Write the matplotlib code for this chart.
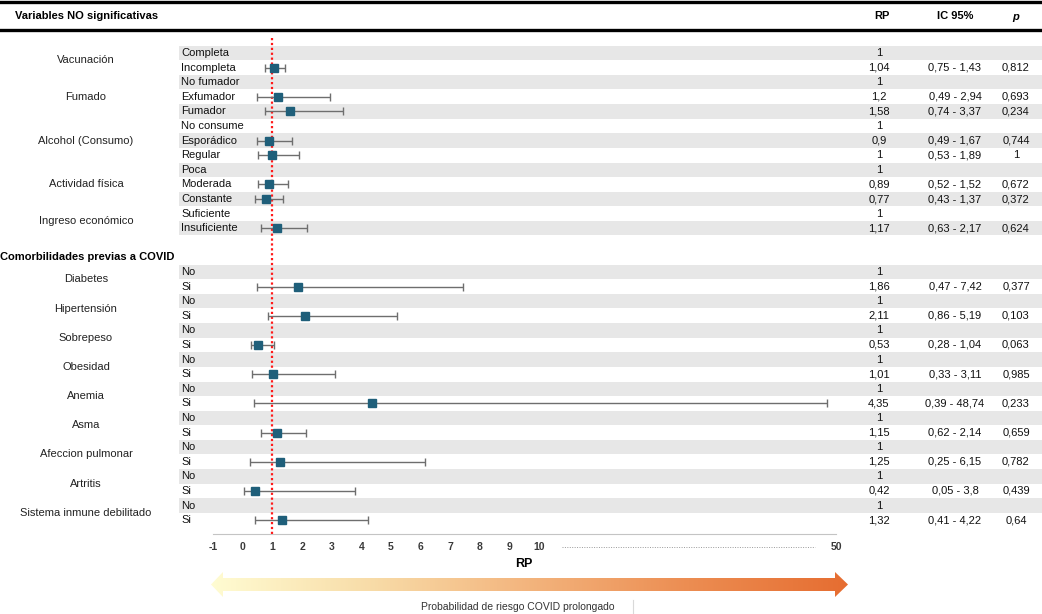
import numpy as np
import matplotlib
matplotlib.use('Agg')
import matplotlib.pyplot as plt
from matplotlib.patches import Polygon
from matplotlib.colors import LinearSegmentedColormap

plt.rcParams['font.family'] = ['Liberation Sans', 'DejaVu Sans']

# --- data -------------------------------------------------------------
sec1_groups = ['Vacunación', 'Fumado', 'Alcohol (Consumo)', 'Actividad física', 'Ingreso económico']
sec1_levels = [['Completa', 'Incompleta'],
               ['No fumador', 'Exfumador', 'Fumador'],
               ['No consume', 'Esporádico', 'Regular'],
               ['Poca', 'Moderada', 'Constante'],
               ['Suficiente', 'Insuficiente']]
nan = np.nan
sec1_rp = [1, 1.04, 1, 1.2, 1.58, 1, 0.9, 1, 1, 0.89, 0.77, 1, 1.17]
sec1_lo = [nan, 0.75, nan, 0.49, 0.74, nan, 0.49, 0.53, nan, 0.52, 0.43, nan, 0.63]
sec1_hi = [nan, 1.43, nan, 2.94, 3.37, nan, 1.67, 1.89, nan, 1.52, 1.37, nan, 2.17]
sec1_p = [nan, 0.812, nan, 0.693, 0.234, nan, 0.744, 1, nan, 0.672, 0.372, nan, 0.624]

com_groups = ['Diabetes', 'Hipertensión', 'Sobrepeso', 'Obesidad', 'Anemia', 'Asma',
              'Afeccion pulmonar', 'Artritis', 'Sistema inmune debilitado']
com_levels = ['No', 'Si']
com_rp = [1.86, 2.11, 0.53, 1.01, 4.35, 1.15, 1.25, 0.42, 1.32]
com_lo = [0.47, 0.86, 0.28, 0.33, 0.39, 0.62, 0.25, 0.05, 0.41]
com_hi = [7.42, 5.19, 1.04, 3.11, 48.74, 2.14, 6.15, 3.8, 4.22]
com_p = [0.377, 0.103, 0.063, 0.985, 0.233, 0.659, 0.782, 0.439, 0.64]

x_ticks = [-1, 0, 1, 2, 3, 4, 5, 6, 7, 8, 9, 10, 50]

# --- build rows -------------------------------------------------------
labels, rows, rp, lo, hi, pv = [], [], [], [], [], []
shade = []
group_pos = []
r = 0
k = 0
for g, lv in zip(sec1_groups, sec1_levels):
    start = r
    for name in lv:
        labels.append(name); rows.append(r)
        rp.append(sec1_rp[k]); lo.append(sec1_lo[k]); hi.append(sec1_hi[k]); pv.append(sec1_p[k])
        if k % 2 == 0:
            shade.append(r)
        r += 1; k += 1
    group_pos.append((g, (start + r - 1) / 2))
header2_row = r + 1
r = header2_row + 1
for i, g in enumerate(com_groups):
    start = r
    labels.append(com_levels[0]); rows.append(r)
    rp.append(1); lo.append(nan); hi.append(nan); pv.append(nan)
    shade.append(r)
    r += 1
    labels.append(com_levels[1]); rows.append(r)
    rp.append(com_rp[i]); lo.append(com_lo[i]); hi.append(com_hi[i]); pv.append(com_p[i])
    r += 1
    group_pos.append((g, (start + r - 1) / 2))

rows = np.array(rows, float)
rp = np.array(rp, float)
lo = np.array(lo, float)
hi = np.array(hi, float)


def fmt(v):
    return f'{v:g}'.replace('.', ',')


# pixel layout helpers
W, H = 1042, 614
ROW0, STEP = 53, 14.6


def row_of(py):
    return (py - ROW0) / STEP


fig = plt.figure(figsize=(W / 100, H / 100), dpi=100)

# background axes: x in pixels, y in rows
bg = fig.add_axes([0, 0, 1, 1])
bg.axis('off')

# shaded bands
bg.barh(shade, W - 179, left=179, height=0.98, color='#e7e7e7', zorder=0)

bg.axhline(row_of(1.5), color='black', lw=2.4)
bg.axhline(row_of(30), color='black', lw=2.4)

txt = '#111111'
bg.text(15, row_of(16), 'Variables NO significativas', fontsize=8, fontweight='bold', va='center')
bg.text(882, row_of(16), 'RP', fontsize=8, fontweight='bold', va='center', ha='center')
bg.text(955, row_of(16), 'IC 95%', fontsize=8, fontweight='bold', va='center', ha='center')
bg.text(1016, row_of(17), 'p', fontsize=8, fontweight='bold', fontstyle='italic', va='center', ha='center')
bg.text(0, header2_row, 'Comorbilidades previas a COVID', fontsize=8, fontweight='bold', va='center')

for g, y in group_pos:
    bg.text(86, y, g, fontsize=8, ha='center', va='center', color='#222222')

for i, name in enumerate(labels):
    y = rows[i]
    bg.text(181, y, name, fontsize=8, va='center', color=txt)
    bg.text(879, y, fmt(rp[i]), fontsize=8, va='center', ha='center', color=txt)
    if not np.isnan(lo[i]):
        bg.text(955, y, f'{fmt(lo[i])} - {fmt(hi[i])}', fontsize=8, va='center', ha='center', color=txt)
        bg.text(1016, y, fmt(pv[i]), fontsize=8, va='center', ha='center', color=txt)

# gradient arrow
pts = [(211, 584.5), (223, 572), (223, 578), (835, 578), (835, 572), (848, 584.5),
       (835, 597), (835, 591), (223, 591), (223, 597)]
poly = Polygon([(px, row_of(py)) for px, py in pts], closed=True,
               facecolor='none', edgecolor='none', transform=bg.transData)
bg.add_patch(poly)
cmap = LinearSegmentedColormap.from_list('risk', ['#fffcd2', '#f8dca8', '#f3b47d', '#ec8d52', '#e66d31'])
grad = np.linspace(0, 1, 512).reshape(1, -1)
im = bg.imshow(grad, cmap=cmap, aspect='auto', zorder=1,
               extent=[211, 848, row_of(597), row_of(572)])
im.set_clip_path(poly)

bg.text(518, row_of(607.5), 'Probabilidad de riesgo COVID prolongado', fontsize=7.5,
        ha='center', va='center', color='#333333')
bg.plot([633, 633], [row_of(600), row_of(614)], color='#d9d9d9', lw=0.8)
bg.text(524, row_of(564), 'RP', fontsize=9, fontweight='bold', ha='center', va='center')

bg.set_xlim(0, W)
bg.set_ylim(row_of(H), row_of(0))

# forest axes
ax = fig.add_axes([213 / W, (H - 534) / H, 623 / W, (534 - 38) / H])
ax.patch.set_alpha(0)


def fwd(x):
    x = np.asarray(x, float)
    return np.where(x <= 10, x, 10 + (x - 10) * 0.25)


def inv(t):
    t = np.asarray(t, float)
    return np.where(t <= 10, t, 10 + (t - 10) * 4)


ax.set_xscale('function', functions=(fwd, inv))

m = ~np.isnan(lo)
ax.axvline(1, color='#ff1a1a', ls=(0, (1, 1.2)), lw=1.6, zorder=2)
ax.errorbar(rp[m], rows[m], xerr=[rp[m] - lo[m], hi[m] - rp[m]], fmt='none',
            ecolor='#6e6e6e', elinewidth=1, capsize=3, capthick=1, zorder=3)
ax.plot(rp[m], rows[m], 's', color='#1f5f7a', markersize=5.5, zorder=4, ls='none')

ax.set_xlim(-1, 50)
ax.set_ylim(row_of(534), row_of(38))
ax.set_yticks([])
ax.set_xticks(x_ticks)
ax.set_xticklabels([str(t) for t in x_ticks], fontsize=7.5, fontweight='bold', color='#3a3a3a')
ax.tick_params(axis='x', length=0, pad=5.5)
ax.minorticks_off()
for s in ['top', 'left', 'right']:
    ax.spines[s].set_visible(False)
ax.spines['bottom'].set_color('#c4c4c4')
ax.plot([13, 47.2], [-0.026, -0.026], transform=ax.get_xaxis_transform(), clip_on=False,
        color='#9a9a9a', ls=(0, (1, 1.5)), lw=0.7)

fig.savefig('out.png', dpi=100)
